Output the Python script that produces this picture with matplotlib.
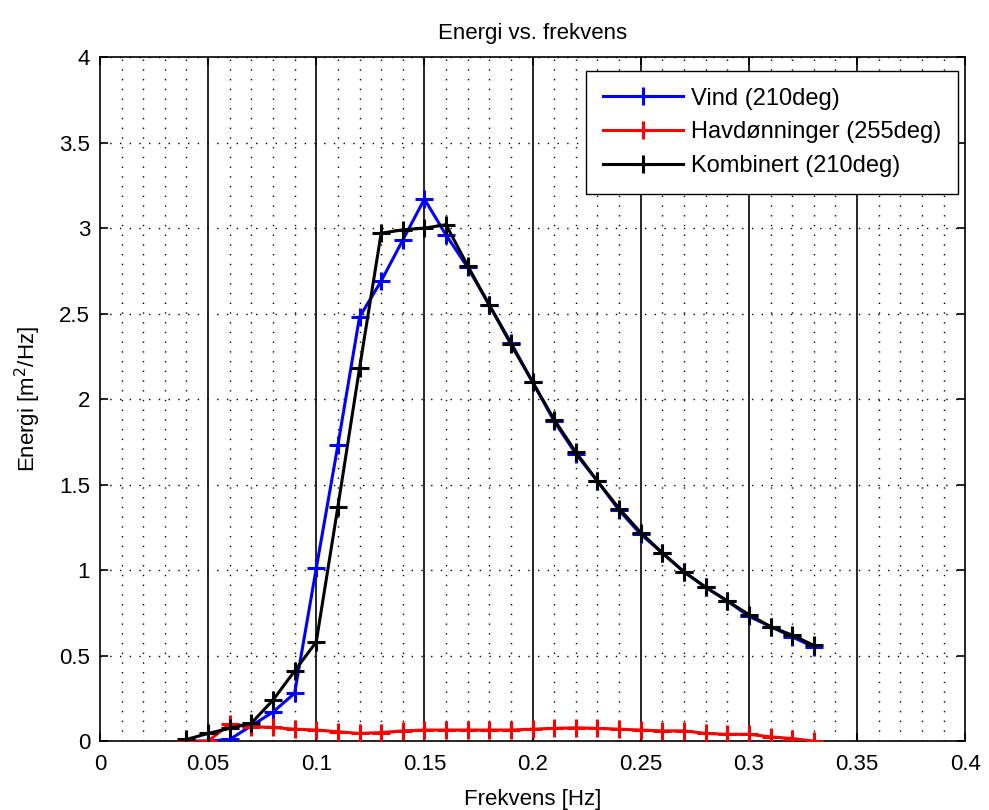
import numpy as np
import matplotlib
matplotlib.use("Agg")
import matplotlib.pyplot as plt
from matplotlib.ticker import MultipleLocator

plt.rcParams['font.family'] = ['Liberation Sans', 'DejaVu Sans']

# frequency axis [Hz]
freq = [0.04, 0.05, 0.06, 0.07, 0.08, 0.09, 0.10, 0.11, 0.12, 0.13,
        0.14, 0.15, 0.16, 0.17, 0.18, 0.19, 0.20, 0.21, 0.22, 0.23,
        0.24, 0.25, 0.26, 0.27, 0.28, 0.29, 0.30, 0.31, 0.32, 0.33]

# spectra [m^2/Hz]
vind = [0.0, 0.0, 0.01, 0.09, 0.17, 0.28, 1.01, 1.73, 2.48, 2.69,
        2.93, 3.17, 2.96, 2.77, 2.55, 2.33, 2.10, 1.87, 1.68, 1.52,
        1.35, 1.21, 1.10, 0.99, 0.90, 0.82, 0.73, 0.67, 0.61, 0.55]

havdonninger = [0.0, 0.0, 0.10, 0.085, 0.08, 0.07, 0.065, 0.055, 0.045, 0.05,
                0.06, 0.065, 0.065, 0.065, 0.065, 0.065, 0.07, 0.075, 0.078, 0.075,
                0.07, 0.065, 0.06, 0.06, 0.045, 0.04, 0.04, 0.025, 0.015, 0.0]

kombinert = [0.01, 0.045, 0.075, 0.105, 0.24, 0.41, 0.58, 1.37, 2.18, 2.97,
             2.99, 3.00, 3.02, 2.78, 2.55, 2.32, 2.10, 1.88, 1.69, 1.52,
             1.36, 1.22, 1.10, 0.99, 0.90, 0.82, 0.74, 0.67, 0.62, 0.56]

xticks = [0, 0.05, 0.1, 0.15, 0.2, 0.25, 0.3, 0.35, 0.4]
xticklabels = ['0', '0.05', '0.1', '0.15', '0.2', '0.25', '0.3', '0.35', '0.4']
yticks = [0, 0.5, 1, 1.5, 2, 2.5, 3, 3.5, 4]
yticklabels = ['0', '0.5', '1', '1.5', '2', '2.5', '3', '3.5', '4']

labels = ['Vind (210deg)', 'Havdønninger (255deg)', 'Kombinert (210deg)']
colors = ['#0000ff', '#ff0000', '#000000']

fig = plt.figure(figsize=(9.89, 8.10), dpi=100)
ax = fig.add_axes([0.101, 0.085, 0.875, 0.8445])

for y, lab, c in zip([vind, havdonninger, kombinert], labels, colors):
    ax.plot(freq, y, color=c, linewidth=2.2, marker='+', markersize=13,
            markeredgewidth=2.2, label=lab, zorder=3)

ax.set_xlim(0, 0.4)
ax.set_ylim(0, 4)
ax.set_xticks(xticks, xticklabels)
ax.set_yticks(yticks, yticklabels)
ax.xaxis.set_minor_locator(MultipleLocator(0.01))

# dotted grid: minor on x, major on y
ax.grid(True, which='minor', axis='x', color='black', linestyle=(0, (1, 6)), linewidth=1)
ax.grid(True, which='major', axis='y', color='black', linestyle=(0, (1, 6)), linewidth=1)
# solid lines at the major frequency ticks
for xv in xticks[1:-1]:
    ax.axvline(xv, color='black', linewidth=1.2, zorder=1)

ax.tick_params(which='both', direction='in', top=True, right=True, labelsize=16)
ax.tick_params(axis='x', pad=9)
ax.tick_params(axis='y', pad=7)
ax.tick_params(which='major', length=6, width=1.2)
ax.tick_params(which='minor', length=0)
for s in ax.spines.values():
    s.set_linewidth(1.2)

ax.set_title('Energi vs. frekvens', fontsize=16, pad=13)
ax.set_xlabel('Frekvens [Hz]', fontsize=16, labelpad=10)
ax.set_ylabel('Energi [m$^2$/Hz]', fontsize=16, labelpad=12)

leg = ax.legend(loc='upper right', fontsize=17, fancybox=False, framealpha=1,
                edgecolor='black', handlelength=3.4, borderaxespad=0,
                bbox_to_anchor=(958 / 989, 1 - 71 / 810), bbox_transform=fig.transFigure,
                labelspacing=0.5, handletextpad=0.35, borderpad=0.7)
leg.get_frame().set_linewidth(1.0)

fig.savefig('out.png', dpi=100)
